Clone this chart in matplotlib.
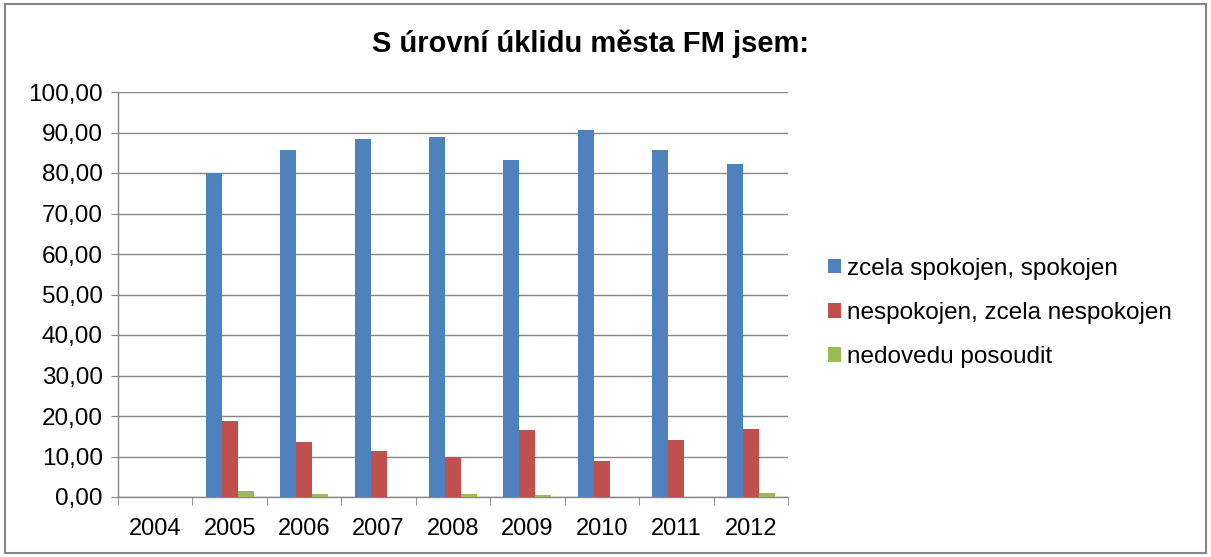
import matplotlib
matplotlib.use("Agg")
import matplotlib.pyplot as plt
import matplotlib.ticker as mtick
from matplotlib.patches import Rectangle
import numpy as np

plt.rcParams['font.family'] = ['Liberation Sans', 'DejaVu Sans']

years = ['2004', '2005', '2006', '2007', '2008', '2009', '2010', '2011', '2012']
spokojen = [0, 79.9, 85.6, 88.3, 88.9, 83.1, 90.7, 85.8, 82.2]
nespokojen = [0, 18.7, 13.7, 11.3, 10.0, 16.5, 9.0, 14.0, 16.8]
nedovedu = [0, 1.4, 0.75, 0, 0.75, 0.4, 0, 0, 1.1]
series_names = ['zcela spokojen, spokojen', 'nespokojen, zcela nespokojen', 'nedovedu posoudit']
colors = ['#4F81BD', '#C0504D', '#9BBB59']

fig = plt.figure(figsize=(12.11, 5.57), dpi=100)
ax = fig.add_axes([118/1211, 1 - 497/557, (788-118)/1211, (497-92)/557])

x = np.arange(len(years))
w = 0.215
for i, (vals, name) in enumerate(zip([spokojen, nespokojen, nedovedu], series_names)):
    ax.bar(x + (i - 1) * w, vals, w, color=colors[i], label=name, zorder=3)

ax.set_xlim(-0.5, len(years) - 0.5)
ax.set_ylim(0, 100)
ax.set_yticks(np.arange(0, 101, 10))
ax.yaxis.set_major_formatter(mtick.FuncFormatter(lambda v, p: f"{v:.2f}".replace('.', ',')))
ax.set_xticks(x)
ax.set_xticklabels(years)
ax.set_xticks(np.arange(-0.5, len(years)), minor=True)
ax.tick_params(axis='x', which='major', length=0, labelsize=17, pad=15)
ax.tick_params(axis='x', which='minor', length=6, color='#868686', direction='out')
ax.tick_params(axis='y', length=5, color='#868686', labelsize=17.5, pad=6)
ax.grid(axis='y', color='#868686', linewidth=1, zorder=0)
for s in ['top', 'right']:
    ax.spines[s].set_visible(False)
for s in ['left', 'bottom']:
    ax.spines[s].set_color('#868686')
    ax.spines[s].set_linewidth(1)

fig.text(590/1211, 1 - 44/557, 'S úrovní úklidu města FM jsem:', ha='center', va='center',
         fontsize=21, fontweight='bold')

fig.legend(loc='center left', bbox_to_anchor=(806/1211, 1 - 313/557), frameon=False,
           fontsize=17.5, handlelength=0.55, handleheight=0.55, handletextpad=0.25,
           labelspacing=0.92)

fig.patches.append(Rectangle((5/1211, 4/557), 1 - 10/1211, 1 - 8/557, transform=fig.transFigure,
                             fill=False, edgecolor='#868686', linewidth=1.5))

plt.savefig('out.png', dpi=100)
